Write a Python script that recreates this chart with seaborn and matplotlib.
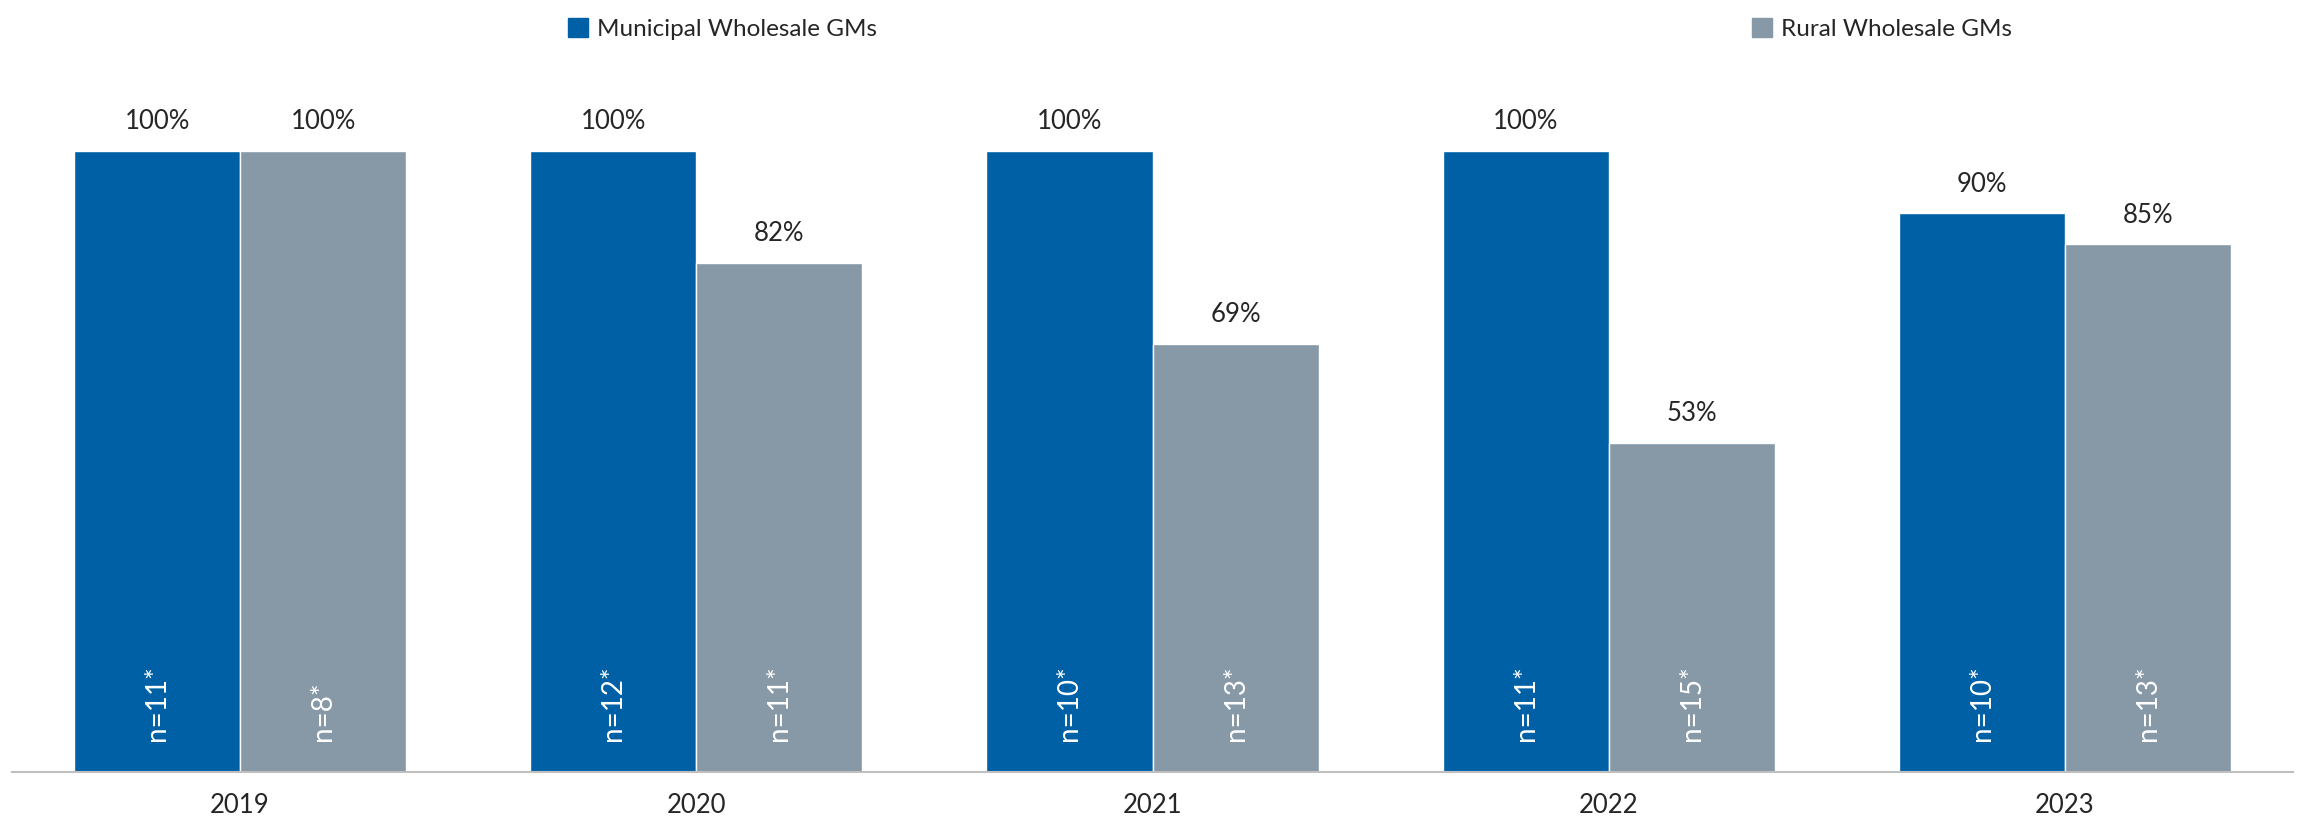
import matplotlib
matplotlib.use("Agg")
import matplotlib.pyplot as plt
import seaborn as sns
import pandas as pd
from matplotlib.patches import Patch

years = ["2019", "2020", "2021", "2022", "2023"]
municipal = [100, 100, 100, 100, 90]
rural = [100, 82, 69, 53, 85]
municipal_n = [11, 12, 10, 11, 10]
rural_n = [8, 11, 13, 15, 13]
groups = ["Municipal Wholesale GMs", "Rural Wholesale GMs"]
colors = ["#0060A6", "#8798A6"]

df = pd.DataFrame({
    "year": years * 2,
    "value": municipal + rural,
    "n": municipal_n + rural_n,
    "group": [groups[0]] * 5 + [groups[1]] * 5,
})

sns.set_style("white")
plt.rcParams["font.family"] = ["Lato", "DejaVu Sans"]

fig = plt.figure(figsize=(23.05, 8.26), dpi=100)
ax = fig.add_axes([12 / 2305, 54 / 826, (2293 - 12) / 2305, (772 - 58) / 826])
sns.barplot(data=df, x="year", y="value", hue="group", palette=colors,
            width=0.728, gap=0, ax=ax, legend=False, saturation=1)

ax.set_ylim(0, 115)
ax.set_xlim(-0.5, 4.5)
ax.set_yticks([])
ax.set_xlabel("")
ax.set_ylabel("")
for s in ["top", "right", "left"]:
    ax.spines[s].set_visible(False)
ax.spines["bottom"].set_color("#BFBFBF")
ax.spines["bottom"].set_linewidth(1.5)
ax.set_xticks([i - 0.5 for i in range(6)], minor=True)
ax.tick_params(axis="x", which="minor", length=10, width=1.5, color="#BFBFBF", direction="out")
ax.tick_params(axis="x", which="major", length=0, labelsize=18.5, pad=15)

nvals = municipal_n + rural_n
for cont_i, cont in enumerate(ax.containers):
    for j, bar in enumerate(cont):
        xc = bar.get_x() + bar.get_width() / 2
        h = bar.get_height()
        ax.annotate(f"{h:.0f}%", (xc, h), xytext=(0, 12), textcoords="offset points",
                    ha="center", va="bottom", fontsize=18.5)
        ax.annotate(f"n={nvals[cont_i * 5 + j]}*", (xc, 0), xytext=(0, 22),
                    textcoords="offset points", ha="center", va="bottom",
                    rotation=90, color="white", fontsize=20)

handles = [Patch(color=c, label=g) for c, g in zip(colors, groups)]
fig.legend(handles=handles, loc="upper left", bbox_to_anchor=(556 / 2305, 0.993),
           ncol=2, frameon=False, fontsize=17.5, handlelength=0.8, handleheight=0.8,
           handletextpad=0.4, columnspacing=36.0, borderaxespad=0.1)

fig.savefig("out.png", dpi=100)
